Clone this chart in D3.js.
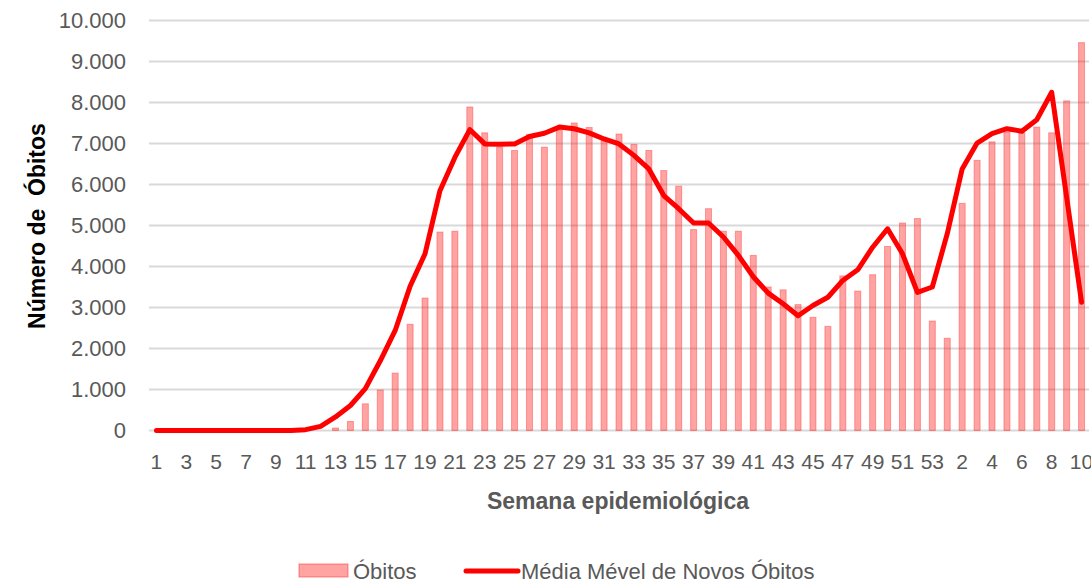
<!DOCTYPE html>
<html>
<head>
<meta charset="utf-8">
<script src="https://cdn.jsdelivr.net/npm/d3@7"></script>
<style>
  body { margin: 0; background: #fff; overflow: hidden; }
  text { font-family: "Liberation Sans", Arial, sans-serif; }
</style>
</head>
<body>
<div id="chart"></div>
<script>
// semanas 2020 (1..53) + 2021 (1..10)
const weeks = d3.range(1, 54).map(String).concat(d3.range(1, 11).map(String));
const obitos = [
  0, 0, 0, 0, 0, 0, 0, 0, 0, 0, 0, 0,
  60, 220, 650, 990, 1400, 2590, 3230, 4840, 4860, 7890,
  7260, 6910, 6830, 7220, 6910, 7330, 7500, 7390, 7070, 7230,
  6980, 6830, 6340, 5960, 4900, 5410, 4860, 4860, 4270, 3500,
  3430, 3070, 2760, 2540, 3770, 3400, 3800, 4490, 5060, 5170, 2670,
  2250, 5540, 6590, 7040, 7280, 7260, 7400, 7260, 8040, 9460
];
const mediaMovel = [
  0, 0, 0, 0, 0, 0, 0, 0, 0, 0, 20, 100,
  330, 610, 1020, 1700, 2440, 3520, 4310, 5850, 6660, 7340,
  6990, 6980, 6990, 7170, 7250, 7400, 7360, 7260, 7110, 6990,
  6710, 6380, 5730, 5410, 5060, 5060, 4720, 4270, 3750, 3350,
  3090, 2800, 3050, 3250, 3660, 3920, 4470, 4920, 4310, 3370, 3500,
  4800, 6380, 7010, 7240, 7360, 7300, 7580, 8250, 5690, 3130
];
const yTicks = [0, 1000, 2000, 3000, 4000, 5000, 6000, 7000, 8000, 9000, 10000];

const W = 1091, H = 586;
const svg = d3.select("#chart").append("svg")
  .attr("width", W).attr("height", H);

const keys = weeks.map((w, i) => i);
const x = d3.scaleBand().domain(keys).range([149, 1089]);
const y = d3.scaleLinear().domain([0, 10000]).range([430.5, 20.5]);

const fmt = d3.formatLocale({ decimal: ",", thousands: ".", grouping: [3], currency: ["R$", ""] }).format(",d");

// grid
svg.append("g")
  .selectAll("line")
  .data(yTicks)
  .join("line")
  .attr("x1", 149).attr("x2", 1089)
  .attr("y1", d => y(d)).attr("y2", d => y(d))
  .attr("stroke", "#d9d9d9")
  .attr("stroke-width", 2);

// y labels
svg.append("g")
  .selectAll("text")
  .data(yTicks)
  .join("text")
  .attr("x", 126)
  .attr("y", d => y(d))
  .attr("dy", "0.35em")
  .attr("text-anchor", "end")
  .style("font-size", "22px")
  .attr("fill", "#595959")
  .text(d => fmt(d));

// bars
const bw = 6;
svg.append("g")
  .selectAll("rect")
  .data(obitos)
  .join("rect")
  .attr("x", (d, i) => x(i) + x.bandwidth() / 2 - bw / 2)
  .attr("y", d => y(d))
  .attr("width", bw)
  .attr("height", d => y(0) - y(d))
  .attr("fill", "rgba(255,0,0,0.36)")
  .attr("stroke", "rgba(255,60,60,0.45)")
  .attr("stroke-width", 1);

// line
const line = d3.line()
  .x((d, i) => x(i) + x.bandwidth() / 2)
  .y(d => y(d));
svg.append("path")
  .datum(mediaMovel)
  .attr("d", line)
  .attr("fill", "none")
  .attr("stroke", "#ff0000")
  .attr("stroke-width", 5)
  .attr("stroke-linejoin", "round")
  .attr("stroke-linecap", "round");

// x labels (every other)
svg.append("g")
  .selectAll("text")
  .data(weeks.map((w, i) => ({ w, i })).filter(d => d.i % 2 === 0))
  .join("text")
  .attr("x", d => x(d.i) + x.bandwidth() / 2)
  .attr("y", 462)
  .attr("dy", "0.35em")
  .attr("text-anchor", "middle")
  .style("font-size", "21px")
  .attr("fill", "#595959")
  .text(d => d.w);

// axis titles
svg.append("text")
  .attr("x", 618).attr("y", 501)
  .attr("dy", "0.35em")
  .attr("text-anchor", "middle")
  .style("font-size", "23px")
  .style("font-weight", "bold")
  .attr("fill", "#595959")
  .text("Semana epidemiológica");

svg.append("text")
  .attr("transform", "translate(37,226) rotate(-90)")
  .attr("dy", "0.35em")
  .attr("text-anchor", "middle")
  .style("font-size", "23px")
  .style("font-weight", "bold")
  .style("white-space", "pre")
  .attr("fill", "#000")
  .text("Número de  Óbitos");

// legend
const lg = svg.append("g");
lg.append("rect")
  .attr("x", 299).attr("y", 564)
  .attr("width", 49).attr("height", 13)
  .attr("fill", "rgba(255,0,0,0.36)")
  .attr("stroke", "rgba(255,60,60,0.6)");
lg.append("text")
  .attr("x", 353).attr("y", 571)
  .attr("dy", "0.35em")
  .style("font-size", "22px")
  .attr("fill", "#595959")
  .text("Óbitos");
lg.append("line")
  .attr("x1", 466).attr("x2", 518)
  .attr("y1", 571).attr("y2", 571)
  .attr("stroke", "#ff0000")
  .attr("stroke-width", 5)
  .attr("stroke-linecap", "round");
lg.append("text")
  .attr("x", 521).attr("y", 571)
  .attr("dy", "0.35em")
  .style("font-size", "22px")
  .attr("fill", "#595959")
  .text("Média Mével de Novos Óbitos");
</script>
</body>
</html>
